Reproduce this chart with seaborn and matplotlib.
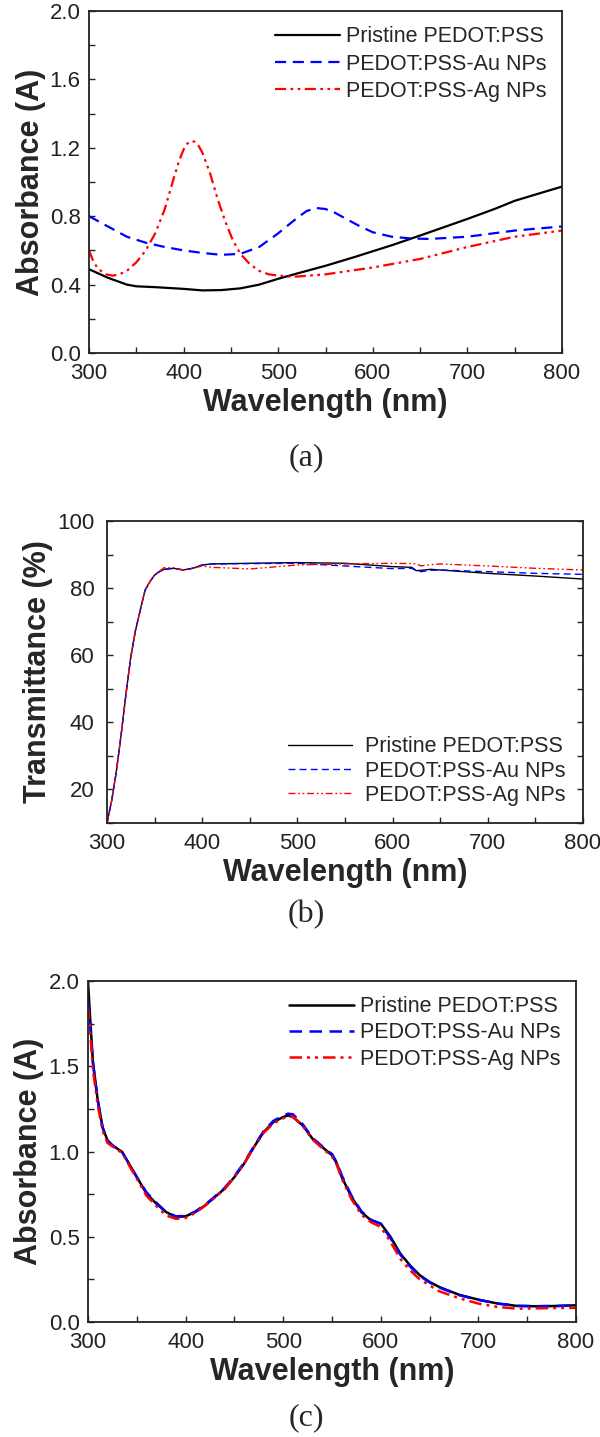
import numpy as np
import pandas as pd
import matplotlib
matplotlib.use("Agg")
import matplotlib.pyplot as plt
from matplotlib.ticker import MultipleLocator
import seaborn as sns

# ---- data ----
# (a) absorbance of films
wl_a_black = [300, 320, 340, 350, 370, 400, 420, 440, 460, 480, 500, 520, 550, 580,
              600, 620, 650, 680, 700, 730, 750, 780, 800]
abs_a_black = [0.49, 0.44, 0.40, 0.39, 0.385, 0.375, 0.366, 0.368, 0.378, 0.40, 0.434, 0.465,
               0.51, 0.56, 0.595, 0.63, 0.687, 0.745, 0.784, 0.845, 0.89, 0.94, 0.973]
wl_a_blue = [300, 320, 340, 360, 380, 400, 420, 440, 460, 480, 500, 520, 530, 540, 550,
             560, 570, 585, 600, 620, 640, 660, 700, 750, 800]
abs_a_blue = [0.80, 0.74, 0.68, 0.645, 0.62, 0.60, 0.585, 0.574, 0.58, 0.62, 0.70, 0.79,
              0.83, 0.848, 0.842, 0.82, 0.79, 0.745, 0.706, 0.68, 0.67, 0.667, 0.68, 0.716, 0.74]
wl_a_red = [300, 305, 310, 318, 325, 332, 340, 350, 360, 370, 380, 390, 395, 400, 404, 408,
            412, 416, 420, 428, 436, 444, 452, 460, 470, 480, 490, 500, 510, 520, 550,
            600, 650, 700, 750, 800]
abs_a_red = [0.60, 0.53, 0.49, 0.46, 0.452, 0.46, 0.48, 0.53, 0.60, 0.70, 0.84, 1.03, 1.12,
             1.19, 1.225, 1.24, 1.235, 1.21, 1.17, 1.05, 0.90, 0.77, 0.66, 0.58, 0.52, 0.48,
             0.46, 0.453, 0.447, 0.447, 0.46, 0.50, 0.55, 0.62, 0.68, 0.716]

# (b) transmittance
wl_b = [300, 305, 310, 315, 320, 325, 330, 335, 340, 345, 350, 355, 360, 370, 380, 390,
        400, 410, 450, 500, 550, 600, 620, 625, 630, 640, 650, 700, 750, 800]
tr_b_black = [10.0, 16.8, 25.7, 36.7, 48.6, 59.5, 67.5, 73.5, 79.4, 81.9, 83.9, 84.9, 85.6,
              85.9, 85.4, 85.9, 86.9, 87.2, 87.4, 87.6, 87.4, 86.4, 86.2, 85.2, 85.3, 85.6,
              85.4, 84.4, 83.6, 82.7]
tr_b_blue = [10.0, 16.8, 25.7, 36.7, 48.6, 59.5, 67.5, 73.5, 79.4, 81.9, 83.9, 84.9, 85.6,
             85.9, 85.4, 85.9, 86.9, 87.2, 87.3, 87.4, 86.6, 85.8, 85.9, 85.2, 84.9, 85.3,
             85.4, 84.9, 84.4, 84.1]
tr_b_red = [10.0, 16.8, 25.7, 36.7, 48.6, 59.5, 67.5, 73.5, 79.4, 81.9, 83.9, 85.0, 86.1,
            86.1, 85.4, 85.9, 86.6, 86.2, 85.7, 86.9, 87.2, 87.4, 87.3, 87.2, 86.6, 87.0,
            87.2, 86.6, 85.9, 85.4]

# (c) absorbance of solutions
wl_c = [300, 302, 305, 310, 315, 320, 325, 330, 335, 340, 350, 360, 370, 380, 390, 400,
        410, 420, 430, 440, 450, 460, 470, 480, 490, 500, 505, 510, 520, 530, 540, 550,
        555, 560, 570, 580, 590, 600, 610, 620, 630, 640, 650, 660, 680, 700, 720, 740,
        760, 780, 800]
abs_c_black = [2.0, 1.80, 1.53, 1.30, 1.14, 1.065, 1.036, 1.017, 0.997, 0.948, 0.85, 0.753,
               0.694, 0.645, 0.616, 0.62, 0.645, 0.684, 0.733, 0.782, 0.85, 0.929, 1.026,
               1.114, 1.173, 1.202, 1.212, 1.202, 1.153, 1.075, 1.026, 0.978, 0.929, 0.85,
               0.733, 0.645, 0.596, 0.577, 0.499, 0.401, 0.332, 0.274, 0.235, 0.205, 0.16,
               0.131, 0.108, 0.094, 0.092, 0.094, 0.098]
abs_c_blue = [1.88, 1.76, 1.52, 1.30, 1.14, 1.065, 1.036, 1.017, 0.997, 0.948, 0.85, 0.76,
              0.70, 0.645, 0.62, 0.622, 0.648, 0.688, 0.736, 0.786, 0.855, 0.935, 1.03,
              1.12, 1.18, 1.21, 1.222, 1.218, 1.16, 1.08, 1.03, 0.985, 0.935, 0.86, 0.74,
              0.65, 0.60, 0.575, 0.49, 0.395, 0.325, 0.27, 0.232, 0.202, 0.158, 0.13, 0.108,
              0.095, 0.093, 0.094, 0.097]
abs_c_red = [1.85, 1.72, 1.48, 1.27, 1.12, 1.05, 1.03, 1.012, 0.99, 0.94, 0.84, 0.74,
             0.68, 0.625, 0.605, 0.61, 0.64, 0.682, 0.73, 0.78, 0.85, 0.93, 1.025, 1.11,
             1.165, 1.195, 1.205, 1.205, 1.15, 1.07, 1.02, 0.97, 0.92, 0.84, 0.72, 0.63,
             0.585, 0.557, 0.47, 0.37, 0.303, 0.25, 0.215, 0.18, 0.14, 0.108, 0.088, 0.078,
             0.08, 0.082, 0.083]

labels = ["Pristine PEDOT:PSS", "PEDOT:PSS-Au NPs", "PEDOT:PSS-Ag NPs"]
colors = ["black", "#0000FF", "#FF0000"]
styles = ["-", (0, (5, 3)), (0, (5, 2, 1.2, 2, 1.2, 2))]

sns.set_theme(style="ticks")
plt.rcParams["font.family"] = ["Liberation Sans", "DejaVu Sans"]
plt.rcParams["xtick.direction"] = "in"
plt.rcParams["ytick.direction"] = "in"

W, H = 600, 1437
fig = plt.figure(figsize=(W / 100, H / 100), dpi=100)


def px_axes(left, right, top, bottom):
    return fig.add_axes([left / W, 1 - bottom / H, (right - left) / W, (bottom - top) / H])


def style_axes(ax, ylabel, xmaj, ymaj, ymin, right_ticks=False, ypad=6):
    ax.set_xlim(300, 800)
    ax.xaxis.set_major_locator(MultipleLocator(xmaj))
    ax.xaxis.set_minor_locator(MultipleLocator(50))
    ax.yaxis.set_major_locator(MultipleLocator(ymaj))
    ax.yaxis.set_minor_locator(MultipleLocator(ymin))
    ax.tick_params(which="both", direction="in", labelsize=16, colors="#222222",
                   width=1.0, right=right_ticks, length=4)
    ax.tick_params(axis="x", which="both", pad=7)
    ax.tick_params(axis="y", which="both", pad=ypad)
    for sp in ax.spines.values():
        sp.set_linewidth(1.3)
        sp.set_color("#222222")
    ax.set_xlabel("Wavelength (nm)", fontsize=22, fontweight="bold", labelpad=3)
    ax.set_ylabel(ylabel, fontsize=22, fontweight="bold", labelpad=3)


# (a)
ax1 = px_axes(89, 562, 11, 353)
for x, y, lab, c, ls in zip([wl_a_black, wl_a_blue, wl_a_red],
                            [abs_a_black, abs_a_blue, abs_a_red], labels, colors, styles):
    sns.lineplot(x=x, y=y, ax=ax1, color=c, linestyle=ls, linewidth=1.6, label=lab)
ax1.set_ylim(0, 2.0)
style_axes(ax1, "Absorbance (A)", 100, 0.4, 0.2)
ax1.yaxis.set_major_formatter(matplotlib.ticker.FormatStrFormatter("%.1f"))
ax1.legend(loc="upper right", frameon=False, fontsize=15.5, handlelength=3.0,
           handletextpad=0.3, labelspacing=0.3, borderaxespad=0.3)

# (b)
ax2 = px_axes(107, 583, 521, 823)
for y, lab, c, ls in zip([tr_b_black, tr_b_blue, tr_b_red], labels, colors, styles):
    sns.lineplot(x=wl_b, y=y, ax=ax2, color=c, linestyle=ls, linewidth=1.0, label=lab)
ax2.set_ylim(10, 100)
style_axes(ax2, "Transmittance (%)", 100, 20, 10, right_ticks=True, ypad=9)
ax2.legend(loc="lower right", frameon=False, fontsize=15.5, handlelength=3.0,
           handletextpad=0.6, labelspacing=0.15, borderaxespad=0.4)

# (c)
ax3 = px_axes(88, 576, 981, 1322)
for y, lab, c, ls in zip([abs_c_black, abs_c_blue, abs_c_red], labels, colors, styles):
    sns.lineplot(x=wl_c, y=y, ax=ax3, color=c, linestyle=ls, linewidth=1.8, label=lab)
ax3.set_ylim(0, 2.0)
style_axes(ax3, "Absorbance (A)", 100, 0.5, 0.25)
ax3.yaxis.set_major_formatter(matplotlib.ticker.FormatStrFormatter("%.1f"))
ax3.legend(loc="upper right", frameon=False, fontsize=15.5, handlelength=3.0,
           handletextpad=0.3, labelspacing=0.25, borderaxespad=0.3)

for txt, ypx in zip(["(a)", "(b)", "(c)"], [458, 915, 1418]):
    fig.text(306 / W, 1 - ypx / H, txt, ha="center", va="center", fontsize=23,
             family=["Liberation Serif", "DejaVu Serif"])

fig.savefig("out.png", dpi=100)
